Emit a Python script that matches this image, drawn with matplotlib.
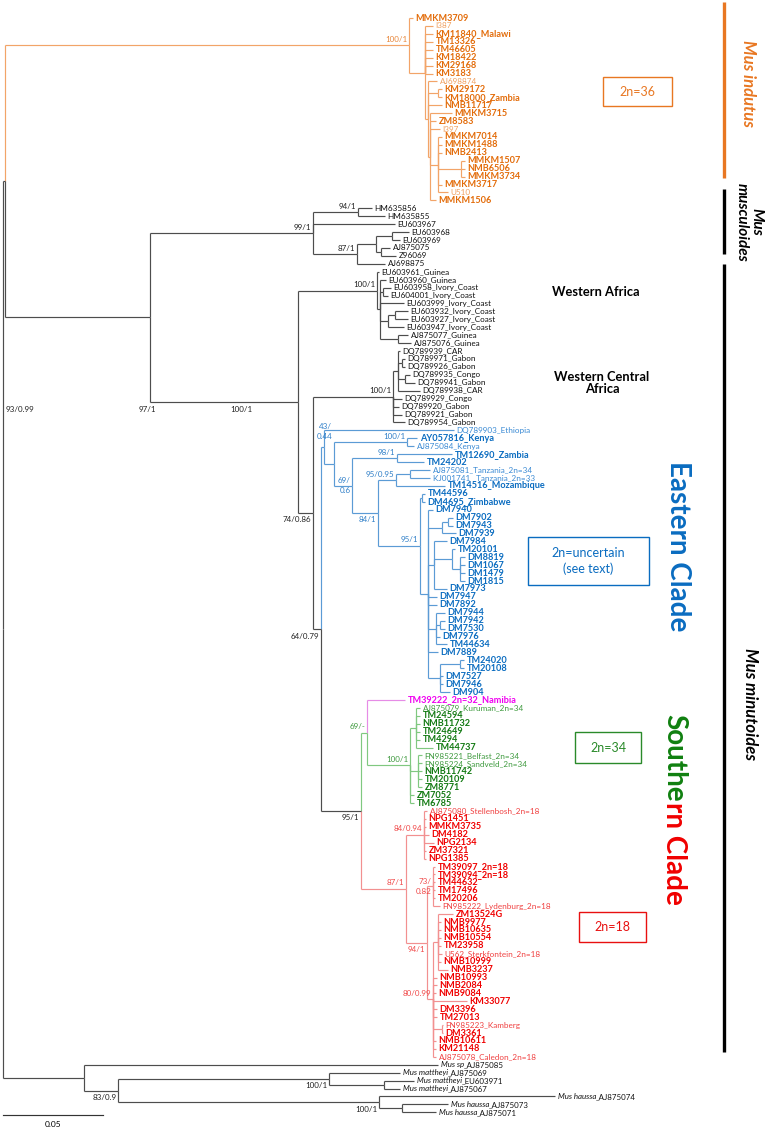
import matplotlib
matplotlib.use("Agg")
import matplotlib.pyplot as plt
from matplotlib.collections import LineCollection
from matplotlib.patches import Rectangle

plt.rcParams["font.family"] = ["Lato", "DejaVu Sans"]

# distances from the root in 1e-3 substitutions/site
# tip = ("name", depth)   node = [depth, "support", child, child, ...]
INDUTUS = [203.0, "100/1",
    ("MMKM3709", 205.0),
    [211.0, "",
        ("I387", 215.0), ("KM11840_Malawi", 215.0), ("TM13326", 215.0), ("TM46605", 215.0),
        ("KM18422", 215.0), ("KM29168", 215.0), ("KM3183", 215.0),
        [212.5, "", ("AJ698874", 217.0),
                    [217.5, "", ("KM29172", 219.5), ("KM18000_Zambia", 219.5)],
                    ("NMB11717", 219.5),
                    [213.5, "", ("MMKM3715", 224.5), ("ZM8583", 216.5), ("I397", 218.5),
                        [217.5, "", ("MMKM7014", 219.5), ("MMKM1488", 219.5), ("NMB2413", 219.5),
                            [229.0, "", ("MMKM1507", 231.0), ("NMB6506", 231.0), ("MMKM3734", 231.0)],
                            ("MMKM3717", 219.5), ("U510", 222.5)],
                        ("MMKM1506", 216.5)]]]]

MUSCULOIDES = [155.0, "99/1",
    [177.5, "94/1", ("HM635856", 184.5), ("HM635855", 191.0)],
    ("EU603967", 196.0),
    [177.0, "87/1",
        [186.5, "",
            [194.5, "", ("EU603968", 203.0), ("EU603969", 198.5)],
            [189.0, "", ("AJ875075", 193.5), ("Z96069", 196.5)]],
        ("AJ698875", 191.0)]]

WEST_AFRICA = [187.0, "100/1",
    ("EU603961_Guinea", 188.0),
    [188.5, "",
        ("EU603960_Guinea", 191.5),
        [190.0, "", ("EU603958_Ivory_Coast", 194.0), ("EU604001_Ivory_Coast", 192.5)],
        ("EU603999_Ivory_Coast", 200.5),
        [192.5, "", [196.0, "", ("EU603932_Ivory_Coast", 202.5), ("EU603927_Ivory_Coast", 202.5)],
                    ("EU603947_Ivory_Coast", 200.5)],
        [197.5, "", ("AJ875077_Guinea", 202.5), ("AJ875076_Guinea", 204.0)]]]

WEST_CENTRAL = [195.0, "100/1",
    [197.5, "",
        ("DQ789939_CAR", 198.5),
        [199.5, "", ("DQ789971_Gabon", 201.0), ("DQ789926_Gabon", 201.0)],
        [201.0, "", ("DQ789935_Congo", 203.5), ("DQ789941_Gabon", 206.0)],
        ("DQ789938_CAR", 208.5)],
    ("DQ789929_Congo", 199.5),
    ("DQ789920_Gabon", 198.0),
    ("DQ789921_Gabon", 199.5),
    ("DQ789954_Gabon", 201.0)]

EASTERN = [160.5, "43/\n0.44",
    ("DQ789903_Ethiopia", 225.5),
    [165.5, "",
        [202.0, "100/1", ("AY057816_Kenya", 207.0), ("AJ875084_Kenya", 205.5)],
        [174.5, "69/\n0.6",
            [197.0, "98/1", ("TM12690_Zambia", 224.5), ("TM24202", 210.5)],
            [187.5, "84/1",
                [196.5, "95/0.95",
                    [203.5, "", ("AJ875081_Tanzania_2n=34", 213.5), ("KJ001741 _Tanzania_2n=33", 213.5)],
                    ("TM14516_Mozambique", 221.0)],
                [208.5, "95/1",
                    [209.5, "", ("TM44596", 211.0), ("DM4695_Zimbabwe", 211.0)],
                    [212.5, "",
                        ("DM7940", 215.0),
                        [219.5, "", [222.5, "", ("DM7902", 225.0), ("DM7943", 225.0)], ("DM7939", 226.5)],
                        [215.5, "", ("DM7984", 222.0),
                            [224.5, "", ("TM20101", 226.0),
                                [228.5, "", ("DM8819", 231.0), ("DM1067", 231.0), ("DM1479", 231.0),
                                 ("DM1815", 231.0)]],
                            ("DM7973", 222.0)],
                        ("DM7947", 217.0),
                        ("DM7892", 217.0),
                        [216.5, "", ("DM7944", 221.0),
                            [218.5, "", ("DM7942", 221.0), ("DM7530", 221.0)],
                            ("DM7976", 218.5), ("TM44634", 222.0)],
                        ("DM7889", 217.5),
                        [218.5, "", [228.5, "", ("TM24020", 230.5), ("TM20108", 230.5)],
                            ("DM7527", 220.0), ("DM7946", 220.0), ("DM904", 223.5)]]]]]]]

SOUTH_2N34 = [182.0, "69/-",
    ("TM39222_2n=32_Namibia", 201.0),
    [203.5, "100/1",
        [206.5, "", ("AJ875079_Kuruman_2n=34", 208.5), ("TM24594", 208.5), ("NMB11732", 208.5),
                    ("TM24649", 208.5), ("TM4294", 208.5), ("TM44737", 215.0)],
        [207.5, "", ("FN985221_Belfast_2n=34", 209.5), ("FN985224_Sandveld_2n=34", 209.5),
                    ("NMB11742", 209.5), ("TM20109", 209.5), ("ZM8771", 209.5)],
        ("ZM7052", 205.5), ("TM6785", 205.5)]]

SOUTH_2N18 = [201.5, "87/1",
    [210.5, "84/0.94", ("AJ875080_Stellenbosh_2n=18", 212.0), ("NPG1451", 211.5), ("MMKM3735", 211.5),
        ("DM4182", 213.0), ("NPG2134", 215.5), ("ZM37321", 211.5), ("NPG1385", 211.5)],
    [212.0, "94/1",
        [215.0, "73/\n0.82", ("TM39097_2n=18", 216.0), ("TM39094_2n=18", 216.0), ("TM44632", 216.0),
            ("TM17496", 216.0), ("TM20206", 216.0), ("FN985222_Lydenburg_2n=18", 218.5)],
        [215.0, "80/0.99",
            [217.5, "", ("ZM13524G", 225.0), ("NMB9977", 219.0), ("NMB10635", 219.0), ("NMB10554", 219.0),
                ("TM23958", 219.0), ("U562_Sterkfontein_2n=18", 219.5), ("NMB10999", 219.0), ("NMB3237", 222.5)],
            ("NMB10993", 217.0), ("NMB2084", 217.0), ("NMB9084", 216.5), ("KM33077", 232.0),
            ("DM3396", 217.0), ("TM27013", 217.0),
            [219.5, "", ("FN985223_Kamberg", 220.0), ("DM3361", 220.0)],
            ("NMB10611", 216.5), ("KM21148", 216.5), ("AJ875078_Caledon_2n=18", 216.5)]]]

OUTGROUP = [40.5, "",
    ("Mus sp_AJ875085", 217.5),
    [57.5, "83/0.9",
        [163.0, "100/1", ("Mus mattheyi_AJ875069", 198.5),
            [190.5, "", ("Mus mattheyi_EU603971", 205.5), ("Mus mattheyi_AJ875067", 198.5)]],
        [188.0, "100/1", ("Mus haussa_AJ875074", 276.0),
            [199.5, "", ("Mus haussa_AJ875073", 222.5), ("Mus haussa_AJ875071", 216.5)]]]]

BACKBONE = [0.0, "",
    [1.0, "93/0.99", "indutus",
        [73.5, "97/1", "musculoides",
            [147.5, "100/1", "west_africa",
                [155.0, "74/0.86", "west_central",
                    [159.0, "64/0.79", "eastern",
                        [179.0, "95/1", "south_2n34", "south_2n18"]]]]]],
    "outgroup"]

CLADES = {"indutus": INDUTUS, "musculoides": MUSCULOIDES, "west_africa": WEST_AFRICA,
          "west_central": WEST_CENTRAL, "eastern": EASTERN, "south_2n34": SOUTH_2N34,
          "south_2n18": SOUTH_2N18, "outgroup": OUTGROUP}
CLADE_COLOUR = {"indutus": "orange", "eastern": "blue", "south_2n34": "green", "south_2n18": "red"}
TIP_COLOUR = {"TM39222_2n=32_Namibia": "magenta"}

# published reference sequences, drawn in plain weight
REFERENCE_SEQS = {"I387", "AJ698874", "I397", "U510", "DQ789903_Ethiopia", "AJ875084_Kenya",
                  "AJ875081_Tanzania_2n=34", "KJ001741 _Tanzania_2n=33", "AJ875079_Kuruman_2n=34",
                  "FN985221_Belfast_2n=34", "FN985224_Sandveld_2n=34", "AJ875080_Stellenbosh_2n=18",
                  "FN985222_Lydenburg_2n=18", "U562_Sterkfontein_2n=18", "FN985223_Kamberg",
                  "AJ875078_Caledon_2n=18"}

PALETTE = {
    "black":   {"line": "#4d4d4d", "bold": "#111111", "plain": "#111111", "support": "#222222"},
    "orange":  {"line": "#f2a468", "bold": "#e36c0a", "plain": "#f0a060", "support": "#e8863a"},
    "blue":    {"line": "#5b9bd5", "bold": "#0a6cc0", "plain": "#3a8ad4", "support": "#2f7fc8"},
    "green":   {"line": "#80c880", "bold": "#137a13", "plain": "#3f9a3f", "support": "#3f9a3f"},
    "red":     {"line": "#f29090", "bold": "#f00000", "plain": "#f04040", "support": "#f04848"},
    "magenta": {"line": "#e68ce6", "bold": "#f000f0", "plain": "#f000f0", "support": "#f000f0"},
}

# support labels drawn under their branch instead of above
LABEL_BELOW = {("95/1", 179.0), ("94/1", 212.0), ("84/1", 187.5), ("83/0.9", 57.5),
               ("100/1", 163.0), ("100/1", 188.0), ("74/0.86", 155.0), ("64/0.79", 159.0)}
# support labels set by hand (x in 1e-3 subs, y in tip rows, alignment)
LABEL_AT = {("93/0.99", 1.0): (1.2, 49.4, "left"),
            ("97/1", 73.5): (72.0, 49.4, "center"),
            ("100/1", 147.5): (119.0, 49.4, "center"),
            ("43/\n0.44", 160.5): (164.6, 52.1, "right")}


def build(item, colour="black"):
    if isinstance(item, str):
        return build(CLADES[item], CLADE_COLOUR.get(item, colour))
    if isinstance(item, tuple):
        label, depth = item
        return {"label": label, "x": depth, "colour": TIP_COLOUR.get(label, colour), "kids": []}
    depth, support, *kids = item
    return {"label": support, "x": depth, "colour": colour, "kids": [build(k, colour) for k in kids]}


tree = build(BACKBONE)
tips, internals = [], []


def layout(n):
    if not n["kids"]:
        n["y"] = len(tips)
        tips.append(n)
        return
    for k in n["kids"]:
        layout(k)
    n["y"] = (n["kids"][0]["y"] + n["kids"][-1]["y"]) / 2
    internals.append(n)


layout(tree)

fig = plt.figure(figsize=(7.66, 11.29), dpi=100)
ax = fig.add_axes([0, 0, 1, 1])
ax.set_xlim(-1.5, 381.5)
ax.set_ylim(len(tips) + 1.1, -2.27)
ax.axis("off")

segs, cols = [], []
for n in internals:
    for k in n["kids"]:
        c = PALETTE[k["colour"]]["line"]
        segs += [[(n["x"], n["y"]), (n["x"], k["y"])], [(n["x"], k["y"]), (k["x"], k["y"])]]
        cols += [c, c]
ax.add_collection(LineCollection(segs, colors=cols, linewidths=0.85, capstyle="butt"))

for t in tips:
    pal = PALETTE[t["colour"]]
    label = t["label"]
    if label.startswith("Mus "):
        # species name in italics, accession upright
        species, acc = label.rsplit("_", 1)
        sp = ax.text(t["x"] + 1.3, t["y"], species, va="center", ha="left", fontsize=5.7,
                     fontstyle="italic", color=pal["plain"])
        ax.annotate("_" + acc, xy=(1, 0), xycoords=sp, va="bottom", ha="left",
                    fontsize=5.7, color=pal["plain"])
        continue
    bold = t["colour"] != "black" and label not in REFERENCE_SEQS
    ax.text(t["x"] + 1.3, t["y"], label, va="center", ha="left",
            fontsize=6.6 if bold else 5.9, fontweight="bold" if bold else "normal",
            color=pal["bold"] if bold else pal["plain"])

for n in internals:
    s = n["label"]
    if not s:
        continue
    key = (s, n["x"])
    col = PALETTE[n["colour"]]["support"]
    if key in LABEL_AT:
        x, y, ha = LABEL_AT[key]
        ax.text(x, y, s, ha=ha, va="center", fontsize=5.8, color=col, linespacing=1.5)
    elif "\n" in s:
        ax.text(n["x"] - 0.8, n["y"], s, ha="right", va="center", fontsize=5.8, color=col,
                linespacing=1.5)
    elif key in LABEL_BELOW:
        ax.text(n["x"] - 0.8, n["y"] + 0.45, s, ha="right", va="top", fontsize=5.8, color=col)
    else:
        ax.text(n["x"] - 0.8, n["y"] - 0.3, s, ha="right", va="bottom", fontsize=5.8, color=col)

# scale bar
ax.plot([0, 50], [138.3, 138.3], color="#333333", lw=0.85)
ax.text(25, 139.5, "0.05", ha="center", va="center", fontsize=6)


def px(x, y):
    return (x / 766, 1 - y / 1129)


T = ax.transAxes
# side bars
for y0, y1, c in [(2, 178, "#e87722"), (189, 254, "black"), (264, 1052, "black")]:
    ax.plot(*zip(px(724, y0), px(724, y1)), transform=T, color=c, lw=2.4, solid_capstyle="butt")

ax.text(*px(748, 84), "Mus indutus", transform=T, rotation=-90, ha="center", va="center",
        fontsize=12, fontweight="bold", fontstyle="italic", color="#e87722")
ax.text(*px(749, 222), "Mus\nmusculoides", transform=T, rotation=-90, ha="center", va="center",
        fontsize=11, fontweight="bold", fontstyle="italic", color="black", linespacing=1.0)
ax.text(*px(750, 704), "Mus minutoides", transform=T, rotation=-90, ha="center", va="center",
        fontsize=12, fontweight="bold", fontstyle="italic", color="black")

ax.text(*px(552, 292), "Western Africa", transform=T, ha="left", va="center",
        fontsize=9.3, fontweight="bold")
ax.text(*px(602, 383), "Western Central\nAfrica", transform=T, ha="center", va="center",
        fontsize=9.3, fontweight="bold", linespacing=1.05)

ax.text(*px(678, 546), "Eastern Clade", transform=T, rotation=-90, ha="center", va="center",
        fontsize=20, fontweight="bold", color="#0a6cc0")
t1 = ax.text(*px(674, 714), "Southe", transform=T, rotation=-90, ha="center", va="top",
             fontsize=20, fontweight="bold", color="#108010")
ax.annotate("rn Clade", xy=(0.5, 0), xycoords=t1, rotation=-90, ha="center", va="top",
            fontsize=20, fontweight="bold", color="#f00000")

# karyotype boxes
for (x0, y0, x1, y1), txt, c in [((603, 77, 672, 106), "2n=36", "#e87722"),
                                  ((528, 537, 649, 585), "2n=uncertain\n(see text)", "#0a6cc0"),
                                  ((575, 732, 641, 763), "2n=34", "#2a8a2a"),
                                  ((579, 912, 646, 942), "2n=18", "#e81010")]:
    ax.add_patch(Rectangle(px(x0, y1), (x1 - x0) / 766, (y1 - y0) / 1129, transform=T,
                           fill=False, edgecolor=c, lw=1.0))
    ax.text(*px((x0 + x1) / 2, (y0 + y1) / 2), txt, transform=T, ha="center", va="center",
            fontsize=9, color=c, linespacing=1.4)

fig.savefig("out.png", dpi=100)
